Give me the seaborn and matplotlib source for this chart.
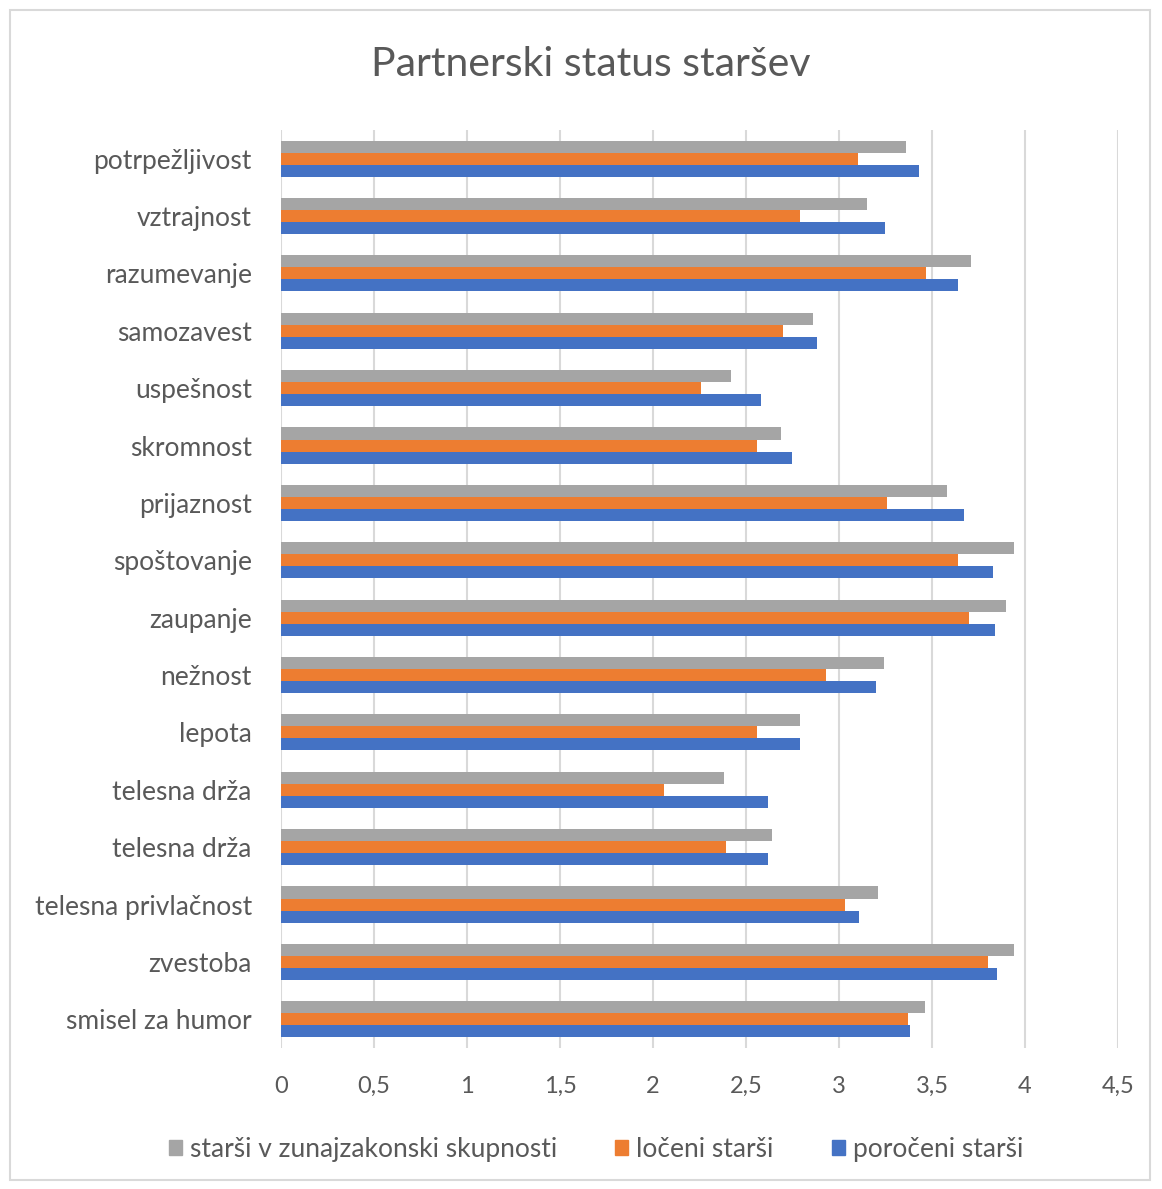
import pandas as pd
import seaborn as sns
import matplotlib.pyplot as plt
from matplotlib.patches import Rectangle

# Data
categories = ["potrpežljivost", "vztrajnost", "razumevanje", "samozavest", "uspešnost",
              "skromnost", "prijaznost", "spoštovanje", "zaupanje", "nežnost", "lepota",
              "telesna drža", "telesna drža", "telesna privlačnost", "zvestoba", "smisel za humor"]
zunajzakonski = [3.36, 3.15, 3.71, 2.86, 2.42, 2.69, 3.58, 3.94, 3.90, 3.24, 2.79,
                 2.38, 2.64, 3.21, 3.94, 3.46]
loceni = [3.10, 2.79, 3.47, 2.70, 2.26, 2.56, 3.26, 3.64, 3.70, 2.93, 2.56,
          2.06, 2.39, 3.03, 3.80, 3.37]
poroceni = [3.43, 3.25, 3.64, 2.88, 2.58, 2.75, 3.67, 3.83, 3.84, 3.20, 2.79,
            2.62, 2.62, 3.11, 3.85, 3.38]
series = ["starši v zunajzakonski skupnosti", "ločeni starši", "poročeni starši"]
colors = ["#A5A5A5", "#ED7D31", "#4472C4"]

# long format; index column keeps the duplicate "telesna drža" rows apart
rows = []
for i, cat in enumerate(categories):
    for name, vals in zip(series, [zunajzakonski, loceni, poroceni]):
        rows.append({"idx": i, "kategorija": cat, "skupina": name, "vrednost": vals[i]})
df = pd.DataFrame(rows)

sns.set_style("white")
plt.rcParams['font.family'] = ['Lato', 'DejaVu Sans']
text_col = "#595959"

fig = plt.figure(figsize=(11.62, 11.89), dpi=100)
ax = fig.add_axes([0.2418, 0.1186, 0.7203, 0.7721])

sns.barplot(data=df, y="idx", x="vrednost", hue="skupina", hue_order=series,
            palette=colors, saturation=1, orient="h", width=0.63, linewidth=0,
            ax=ax, errorbar=None)

ax.set_xlim(0, 4.5)
ax.set_ylim(len(categories) - 0.5, -0.5)
xt = [0, 0.5, 1, 1.5, 2, 2.5, 3, 3.5, 4, 4.5]
ax.set_xticks(xt)
ax.set_xticklabels([str(v).replace(".", ",").replace(",0", "") for v in xt])
ax.set_yticks(range(len(categories)))
ax.set_yticklabels(categories)
ax.tick_params(axis="both", length=0, colors=text_col)
ax.tick_params(axis="x", pad=20, labelsize=17)
ax.tick_params(axis="y", pad=21, labelsize=19)
ax.set_xlabel("")
ax.set_ylabel("")
ax.grid(axis="x", color="#D9D9D9", linewidth=1.5)
ax.set_axisbelow(True)
for s in ax.spines.values():
    s.set_visible(False)

ax.legend_.remove()
handles = [Rectangle((0, 0), 1, 1, color=c) for c in colors]
fig.legend(handles, series, loc="center", bbox_to_anchor=(0.513, 0.033), ncol=3,
           frameon=False, fontsize=19, handlelength=0.5, handleheight=0.5,
           handletextpad=0.3, columnspacing=2.2, labelcolor=text_col)

fig.text(0.508, 0.946, "Partnerski status staršev", ha="center", va="center",
         fontsize=29.5, color=text_col)

fig.patches.append(Rectangle((10 / 1162, 9 / 1189), 1140 / 1162, 1170 / 1189,
                             transform=fig.transFigure, fill=False,
                             edgecolor="#D9D9D9", linewidth=1.5))

fig.savefig("out.png", dpi=100)
